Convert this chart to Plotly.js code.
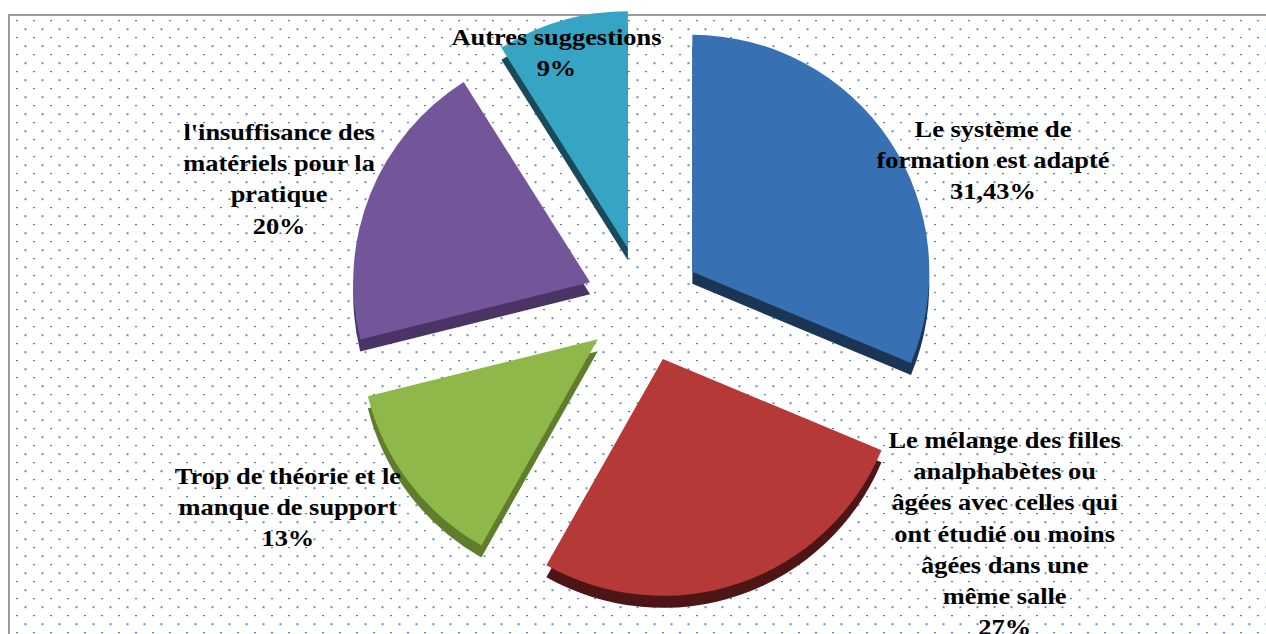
<!DOCTYPE html>
<html>
<head>
<meta charset="utf-8">
<script src="https://cdn.plot.ly/plotly-3.0.1.min.js"></script>
<style>
  html, body { margin: 0; padding: 0; width: 1266px; height: 634px; overflow: hidden; background: #ffffff; }
  #frame {
    position: absolute; left: 8px; top: 14px; width: 1270px; height: 640px;
    border-left: 2px solid #9a9a9a; border-top: 2px solid #9a9a9a;
    background-image: url("data:image/svg+xml;utf8,<svg xmlns='http://www.w3.org/2000/svg' width='17' height='17'><rect x='0' y='0' width='2' height='1.2' fill='%234f7fc6'/><rect x='8.5' y='8.2' width='2' height='2' fill='%234a7ac0' fill-opacity='0.85'/></svg>");
    background-size: 17px 17px;
    background-position: 6px 4px;
  }
  #chart { position: absolute; left: 0; top: 0; width: 1266px; height: 634px; }
  #chart .annotation-text { transform-box: fill-box; transform-origin: center; transform: scaleX(1.1); }
</style>
</head>
<body>
<div id="frame"></div>
<div id="chart"></div>
<script>
// ---- data ----
var categories = [
  "Le système de<br>formation est adapté",
  "Le mélange des filles<br>analphabètes ou<br>âgées avec celles qui<br>ont étudié ou moins<br>âgées dans une<br>même salle",
  "Trop de théorie et le<br>manque de support",
  "l'insuffisance des<br>matériels pour la<br>pratique",
  "Autres suggestions"
];
var values = [31.43, 27, 13, 20, 9];
var valueLabels = ["31,43%", "27%", "13%", "20%", "9%"];

// ---- styles ----
var topColors  = ["#3870b4", "#b53937", "#8fb74a", "#735699", "#36a4c3"];
var sideColors = ["#1b3557", "#4d1515", "#5f7d2c", "#4a3466", "#1a4a5a"];
var labelPos = [ [993, 160], [1004, 533], [288, 507], [279, 179], [556, 52] ];

var W = 1266, H = 634;
var pullAmt = 0.245;
var yTop = 9, yBot = 599, depth = 12;
var xDom = [0.0174, 1];

function pieTrace(colors, shift) {
  return {
    type: "pie",
    values: values,
    labels: categories,
    sort: false,
    direction: "clockwise",
    rotation: 0,
    pull: values.map(function () { return pullAmt; }),
    marker: { colors: colors, line: { width: 0 } },
    textinfo: "none",
    hoverinfo: "skip",
    showlegend: false,
    domain: { x: xDom, y: [(H - yBot - shift) / H, (H - yTop - shift) / H] }
  };
}

var data = [pieTrace(sideColors, depth), pieTrace(topColors, 0)];

var annotations = categories.map(function (c, i) {
  return {
    text: "<b>" + c + "<br>" + valueLabels[i] + "</b>",
    xref: "paper", yref: "paper",
    x: labelPos[i][0] / W, y: 1 - labelPos[i][1] / H,
    xanchor: "center", yanchor: "middle",
    align: "center", showarrow: false,
    font: { family: "'Liberation Serif', 'Times New Roman', Times, serif", size: 24, color: "#000000" }
  };
});

var layout = {
  width: W, height: H,
  margin: { l: 0, r: 0, t: 0, b: 0 },
  paper_bgcolor: "rgba(0,0,0,0)",
  plot_bgcolor: "rgba(0,0,0,0)",
  showlegend: false,
  annotations: annotations
};

Plotly.newPlot("chart", data, layout, { displayModeBar: false, staticPlot: true });
</script>
</body>
</html>
